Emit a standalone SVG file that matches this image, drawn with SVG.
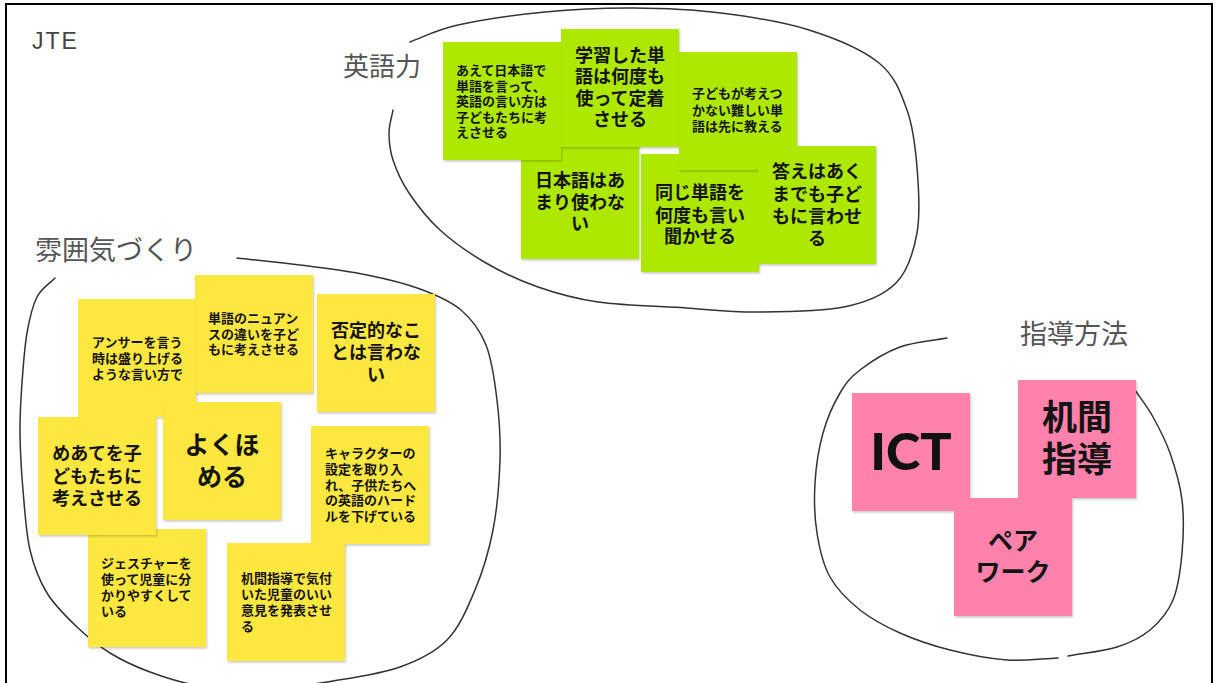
<svg xmlns="http://www.w3.org/2000/svg" width="1217" height="683" viewBox="0 0 1217 683">
<defs>
<filter id="sh" x="-10%" y="-10%" width="130%" height="130%">
<feDropShadow dx="1" dy="1.5" stdDeviation="1" flood-color="#000" flood-opacity="0.22"/>
</filter>
<style>
.ng{fill:#aee800;filter:url(#sh)}
.ny{fill:#fee83f;filter:url(#sh)}
.np{fill:#fe82ab;filter:url(#sh)}
.t{font-family:"Noto Sans CJK JP","Noto Sans CJK SC",sans-serif;font-weight:700;fill:#141414}
.s13{font-size:13px}
.s18{font-size:18px}
.c{text-anchor:middle}
.lbl{font-family:"Noto Sans CJK JP","Noto Sans CJK SC",sans-serif;font-weight:400;fill:#555}
.curve{fill:none;stroke:#333;stroke-width:1.5;stroke-linecap:round;stroke-linejoin:round}
</style>
</defs>
<rect x="0" y="0" width="1217" height="683" fill="#fff"/>
<rect x="6" y="4" width="1206" height="700" fill="none" stroke="#000" stroke-width="2"/>

<g id="outlines">
<path class="curve" d="M410,42 C426,36 435.5,30 458,25 S515.8,14.8 545,12 S603.7,7.8 633,8 S691.7,9.3 721,13 S782.7,21.7 809,30 S862.7,49.7 879,63 S900.7,92.7 907,110 S915.3,146.5 917,167 S920.5,213.7 917,233 S908.2,270.7 896,283 S867.3,302.2 844,307 S782.3,311.8 756,312 S712.3,309.7 686,308 S622.7,305.5 598,302 S556.7,293.5 538,287 S502.3,272.5 486,263 S452.8,241.7 440,230 S416.8,204.7 409,193 S396.3,170 393,160 S389,141.3 389,133 S391.7,117.7 393,110"/>
<path class="curve" d="M237,258 C258,260.3 278.3,262.2 300,265 S347,271 367,275 S404.3,283.2 420,289 S450,300.7 461,310 S480,330 486,345 S494.7,380.8 497,400 S500.7,438.3 500,460 S497.2,508.3 493,530 S482.7,571.7 475,590 S459.5,627.2 447,640 S419,660.2 400,667 S356.3,677.2 333,681 S282.2,689.2 260,690 S218.3,689 200,686 S165,677.5 150,672 S122.2,660.5 110,653 S87.5,637 77,627 S54.8,605.8 47,593 S34,567.2 30,550 S24.7,509.5 23,490 S20.2,450.8 20,433 S20.8,399.7 22,383 S24.5,347.3 27,333 S32.3,306.2 37,297 S49,284.3 55,278"/>
<path class="curve" d="M947,338 C931.3,341 914.5,341.7 900,347 S870,362.3 860,370 S846.2,382.5 840,393 S827.2,418 823,433 S816,466.3 815,483 S814.5,517.3 817,533 S822.8,564.2 830,577 S848.3,600.7 860,610 S885,626.3 900,633 S932.2,645.5 950,650 S989,658.7 1007,660 S1041,658.7 1058,658"/>
<path class="curve" d="M1068,656 C1084.3,653 1103.3,651.3 1117,647 S1140.7,637.8 1150,630 S1167.7,612.8 1173,600 S1180.5,569.7 1182,553 S1184,516.7 1182,500 S1174.8,466.8 1170,453 S1158.8,427.5 1153,417 S1141,399 1135,390"/>
</g>

<g id="label-jte"><text x="32" y="49" font-family="'Liberation Sans',Arial,sans-serif" font-size="23" letter-spacing="2" fill="#444">JTE</text></g>
<g id="label-eigo"><text class="lbl" x="343" y="76" font-size="26">英語力</text></g>
<g id="label-fun"><text class="lbl" x="35" y="260" font-size="27">雰囲気づくり</text></g>
<g id="label-shido"><text class="lbl" x="1020" y="344" font-size="27">指導方法</text></g>

<!-- green notes -->
<g id="g4"><rect class="ng" x="521" y="141" width="118" height="118"/>
<text class="t s18 c" x="580"><tspan x="580" y="186.5">日本語はあ</tspan><tspan x="580" y="208.5">まり使わな</tspan><tspan x="580" y="230">い</tspan></text></g>
<g id="g5"><rect class="ng" x="641" y="154" width="118" height="118"/>
<text class="t s18 c"><tspan x="700" y="199">同じ単語を</tspan><tspan x="700" y="221.5">何度も言い</tspan><tspan x="700" y="243">聞かせる</tspan></text></g>
<g id="g1"><rect class="ng" x="443" y="42" width="118" height="118"/>
<text class="t s13"><tspan x="456" y="75">あえて日本語で</tspan><tspan x="456" y="90.5">単語を言って、</tspan><tspan x="456" y="106">英語の言い方は</tspan><tspan x="456" y="121.5">子どもたちに考</tspan><tspan x="456" y="137">えさせる</tspan></text></g>
<g id="g2"><rect class="ng" x="561" y="29" width="118" height="118"/>
<text class="t s18 c"><tspan x="620" y="61.5">学習した単</tspan><tspan x="620" y="83">語は何度も</tspan><tspan x="620" y="104.5">使って定着</tspan><tspan x="620" y="126">させる</tspan></text></g>
<g id="g3"><rect class="ng" x="679" y="52" width="118" height="118"/>
<text class="t s13"><tspan x="692" y="98">子どもが考えつ</tspan><tspan x="692" y="114.5">かない難しい単</tspan><tspan x="692" y="131">語は先に教える</tspan></text></g>
<g id="g6"><rect class="ng" x="758" y="146" width="118" height="118"/>
<text class="t s18 c"><tspan x="817" y="178">答えはあく</tspan><tspan x="817" y="200.5">までも子ど</tspan><tspan x="817" y="223">もに言わせ</tspan><tspan x="817" y="245">る</tspan></text></g>

<!-- yellow notes -->
<g id="y1"><rect class="ny" x="78" y="299" width="118" height="118"/>
<text class="t s13"><tspan x="92" y="346.5">アンサーを言う</tspan><tspan x="92" y="362.5">時は盛り上げる</tspan><tspan x="92" y="378.5">ような言い方で</tspan></text></g>
<g id="y2"><rect class="ny" x="195" y="275" width="118" height="118"/>
<text class="t s13"><tspan x="208" y="323">単語のニュアン</tspan><tspan x="208" y="338.5">スの違いを子ど</tspan><tspan x="208" y="354">もに考えさせる</tspan></text></g>
<g id="y3"><rect class="ny" x="317" y="294" width="118" height="118"/>
<text class="t s18 c"><tspan x="376" y="336.5">否定的なこ</tspan><tspan x="376" y="358.5">とは言わな</tspan><tspan x="376" y="380.5">い</tspan></text></g>
<g id="y7"><rect class="ny" x="88" y="529" width="118" height="118"/>
<text class="t s13"><tspan x="101" y="568">ジェスチャーを</tspan><tspan x="101" y="584">使って児童に分</tspan><tspan x="101" y="600">かりやすくして</tspan><tspan x="101" y="616">いる</tspan></text></g>
<g id="y4"><rect class="ny" x="38" y="417" width="118" height="118"/>
<text class="t s18 c"><tspan x="97" y="460">めあてを子</tspan><tspan x="97" y="482.5">どもたちに</tspan><tspan x="97" y="505">考えさせる</tspan></text></g>
<g id="y5"><rect class="ny" x="163" y="402" width="118" height="118"/>
<text class="t c" font-size="25"><tspan x="222" y="454">よくほ</tspan><tspan x="222" y="486">める</tspan></text></g>
<g id="y6"><rect class="ny" x="311" y="426" width="118" height="118"/>
<text class="t s13"><tspan x="325" y="458">キャラクターの</tspan><tspan x="325" y="474">設定を取り入</tspan><tspan x="325" y="489.5">れ、子供たちへ</tspan><tspan x="325" y="505">の英語のハード</tspan><tspan x="325" y="521">ルを下げている</tspan></text></g>
<g id="y8"><rect class="ny" x="227" y="543" width="118" height="118"/>
<text class="t s13"><tspan x="241" y="583">机間指導で気付</tspan><tspan x="241" y="599">いた児童のいい</tspan><tspan x="241" y="614.5">意見を発表させ</tspan><tspan x="241" y="630.5">る</tspan></text></g>

<!-- pink notes -->
<g id="p1"><rect class="np" x="852" y="393" width="118" height="118"/>
<text x="911" y="470" text-anchor="middle" font-family="Lato,'Liberation Sans',sans-serif" font-weight="900" font-size="52" fill="#111">ICT</text></g>
<g id="p2"><rect class="np" x="1018" y="380" width="118" height="118"/>
<text class="t c" font-size="35"><tspan x="1077" y="430">机間</tspan><tspan x="1077" y="472">指導</tspan></text></g>
<g id="p3"><rect class="np" x="954" y="498" width="118" height="118"/>
<text class="t c" font-size="25"><tspan x="1013" y="549.5">ペア</tspan><tspan x="1013" y="580.5">ワーク</tspan></text></g>
</svg>
